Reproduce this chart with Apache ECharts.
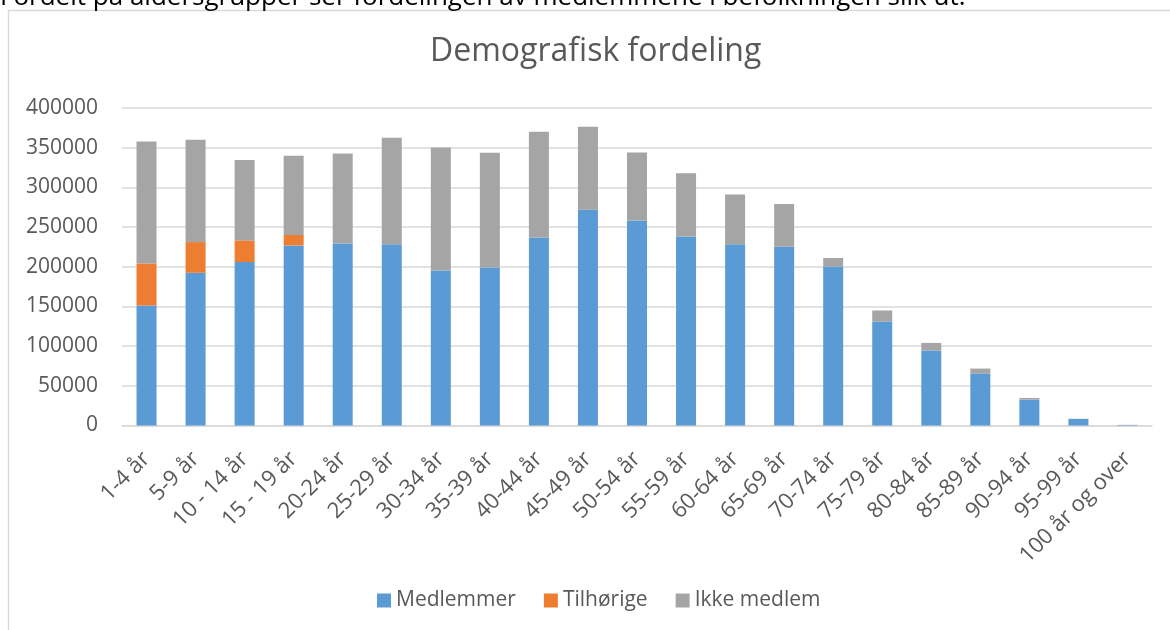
<!DOCTYPE html>
<html>
<head>
<meta charset="utf-8">
<script src="https://cdn.jsdelivr.net/npm/echarts@6/dist/echarts.min.js"></script>
<style>
html,body{margin:0;padding:0;background:#fff;}
#chart{width:1170px;height:630px;}
</style>
</head>
<body>
<div id="chart"></div>
<script>
const categories = ['1-4 år','5-9 år','10 - 14 år','15 - 19 år','20-24 år','25-29 år','30-34 år','35-39 år','40-44 år','45-49 år','50-54 år','55-59 år','60-64 år','65-69 år','70-74 år','75-79 år','80-84 år','85-89 år','90-94 år','95-99 år','100 år og over'];
const medlemmer = [151200,192400,205900,226900,229400,228200,195300,199100,237000,271900,258400,238200,228200,225200,200400,131000,94400,65400,32600,8200,600];
const tilhorige = [53000,38700,27300,13100,0,0,0,0,0,0,0,0,0,0,0,0,0,0,0,0,0];
const ikkeMedlem = [153500,128800,101400,99700,113200,134200,154900,144400,133000,104400,85400,79500,62700,53900,10600,13900,9700,6300,2100,300,200];
const yTicks = {min:0, max:400000, interval:50000};

const font = '"Open Sans", "Noto Sans", sans-serif';
const chart = echarts.init(document.getElementById('chart'));
chart.setOption({
  animation:false,
  textStyle:{fontFamily:font},
  title:{text:'Demografisk fordeling', left:425, top:31,
    textStyle:{fontFamily:font, fontSize:32, fontWeight:'normal', color:'#595959'}},
  graphic:[
    {type:'rect', shape:{x:8.5,y:10.5,width:1200,height:700}, style:{fill:'none', stroke:'#d9d9d9', lineWidth:1.5}, silent:true},
    {type:'text', x:0, y:11, style:{text:'Fordelt på aldersgrupper ser fordelingen av medlemmene i befolkningen slik ut.', font:'26px "Open Sans"', fill:'#000', verticalAlign:'bottom'}}
  ],
  legend:{bottom:14, left:372, itemWidth:14, itemHeight:14, itemGap:28,
    icon:'rect',
    textStyle:{fontFamily:font, fontSize:21, color:'#595959'},
    data:['Medlemmer','Tilhørige','Ikke medlem']},
  grid:{left:122, right:18, top:108, bottom:204.5, containLabel:false},
  xAxis:{type:'category', data:categories,
    axisLine:{lineStyle:{color:'#d9d9d9', width:1.5}},
    axisTick:{show:false},
    axisLabel:{rotate:45, interval:0, fontFamily:font, fontSize:22, color:'#595959', margin:30}},
  yAxis:{type:'value', min:yTicks.min, max:yTicks.max, interval:yTicks.interval,
    axisLine:{show:false}, axisTick:{show:false},
    splitLine:{lineStyle:{color:'#d9d9d9', width:1.5}},
    axisLabel:{fontFamily:font, fontSize:21, color:'#595959', margin:24, formatter:function(v){return String(v);}}},
  series:[
    {name:'Medlemmer', type:'bar', stack:'a', data:medlemmer, barWidth:20, itemStyle:{color:'#5B9BD5'}},
    {name:'Tilhørige', type:'bar', stack:'a', data:tilhorige, barWidth:20, itemStyle:{color:'#ED7D31'}},
    {name:'Ikke medlem', type:'bar', stack:'a', data:ikkeMedlem, barWidth:20, itemStyle:{color:'#A5A5A5'}}
  ]
});
</script>
</body>
</html>
